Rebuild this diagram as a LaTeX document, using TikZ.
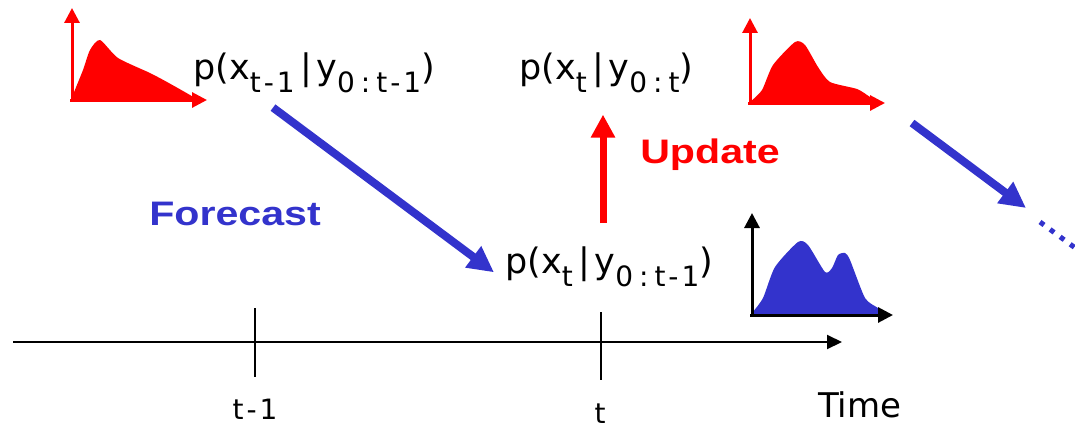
\documentclass[tikz,border=0pt]{standalone}
\usepackage{fontspec}
\setmainfont{DejaVu Sans}
\newfontfamily\arialfont{Liberation Sans}
\usepackage{graphicx}
\usetikzlibrary{arrows.meta,calc}

\definecolor{fcblue}{RGB}{51,51,204}
\definecolor{updred}{RGB}{255,0,0}

% subscripts of the densities
\newcommand{\sbs}[1]{\raisebox{-13pt}{\fontsize{28}{28}\selectfont #1}}
\newcommand{\tmi}{t\kern3pt-\kern3pt1}
\newcommand{\condbar}{\kern6pt|\kern4pt}

\begin{document}
\begin{tikzpicture}[x=1pt,y=-1pt,
        dens/.style={inner sep=0pt,font=\fontsize{35}{40}\selectfont},
        tlab/.style={inner sep=0pt,font=\fontsize{28}{30}\selectfont},
        biglab/.style={inner sep=0pt,font=\arialfont\bfseries\fontsize{34}{40}\selectfont},
        fat/.style={line width=8pt,-{Triangle[length=26pt,width=25pt]}},
        ax/.style={line width=3pt,-{Triangle[length=15pt,width=15pt]}}
      ]
      \useasboundingbox (0,0) rectangle (1075,428);

      % time axis
      \coordinate (axs) at (13,342);
      \coordinate (axe) at (842,342);
      \coordinate (tprev) at (255,342);
      \coordinate (tcur) at (601,342);
      \draw[line width=2pt,-{Triangle[length=15pt,width=14pt]}] (axs) -- (axe);
      \draw[line width=2pt] ($(tprev)+(0,-34)$) -- ($(tprev)+(0,35)$);
      \draw[line width=2pt] ($(tcur)+(0,-30)$) -- ($(tcur)+(0,38)$);
      \node[tlab,anchor=base] (lprev) at (255,419) {\tmi};
      \node[tlab,anchor=base] (lcur) at (600,423) {t};
      \node[dens,font=\fontsize{34}{40}\selectfont,anchor=base west] (ltime) at (818,417) {Time};

      % densities
      \node[dens,anchor=base west] (pprev) at (193,79) {p(x\sbs{\tmi}\condbar y\sbs{0\kern6pt:\kern6pt\tmi})};
      \node[dens,anchor=base west] (pupd) at (519,79) {p(x\sbs{t}\condbar y\sbs{0\kern6pt:\kern6pt t})};
      \node[dens,anchor=base west] (pfc) at (505,273) {p(x\sbs{t}\condbar y\sbs{0\kern6pt:\kern6pt\tmi})};

      \node[biglab,text=fcblue,anchor=base] (fclab) at (235,225) {\scalebox{1.21}[1]{Forecast}};
      \node[biglab,text=updred,anchor=base] (uplab) at (710,163) {\scalebox{1.21}[1]{Update}};

      % steps
      \draw[fat,fcblue] ($(pprev.south west)+(80,15)$) -- ($(pfc.west)+(-11,6)$);
      \draw[fat,updred,line width=7pt,-{Triangle[length=23pt,width=23pt]}] ($(pfc.north -| tcur)+(2,-23)$) -- ($(pupd.south -| tcur)+(2,22)$);
      \coordinate (nxa) at (912,123);
      \coordinate (nxb) at (1026,208);
      \coordinate (dta) at (1040,222);
      \coordinate (dtb) at (1078,250);
      \draw[fat,fcblue] (nxa) -- (nxb);
      \draw[fcblue,line width=5pt,dash pattern=on 5pt off 7.5pt] (dta) -- (dtb);

      % small plots
      \fill[updred] (72,100) -- plot[smooth,tension=0.4] coordinates {(72,97) (83,70) (90,50) (100,40) (118,58) (150,73) (167,82) (190,95) (197,100)} -- cycle;
      \draw[ax,updred] (72,101) -- (72,8);
      \draw[ax,updred] (70,100) -- (207,100);

      \fill[updred] (750,103) -- plot[smooth,tension=0.4] coordinates {(750,102) (762,90) (773,65) (795,42) (805,45) (818,67) (830,82) (857,89) (870,97) (878,102)} -- cycle;
      \draw[ax,updred] (750,104) -- (750,18);
      \draw[ax,updred] (748,103) -- (885,103);

      \fill[fcblue] (752,315) -- plot[smooth,tension=0.4] coordinates {(752,313) (763,298) (775,267) (798,242) (808,245) (825,272) (832,268) (838,255) (845,253) (850,260) (865,298) (878,308) (884,314)} -- cycle;
      \draw[ax] (752,316) -- (752,213);
      \draw[ax] (750,315) -- (893,315);
    \end{tikzpicture}
\end{document}
